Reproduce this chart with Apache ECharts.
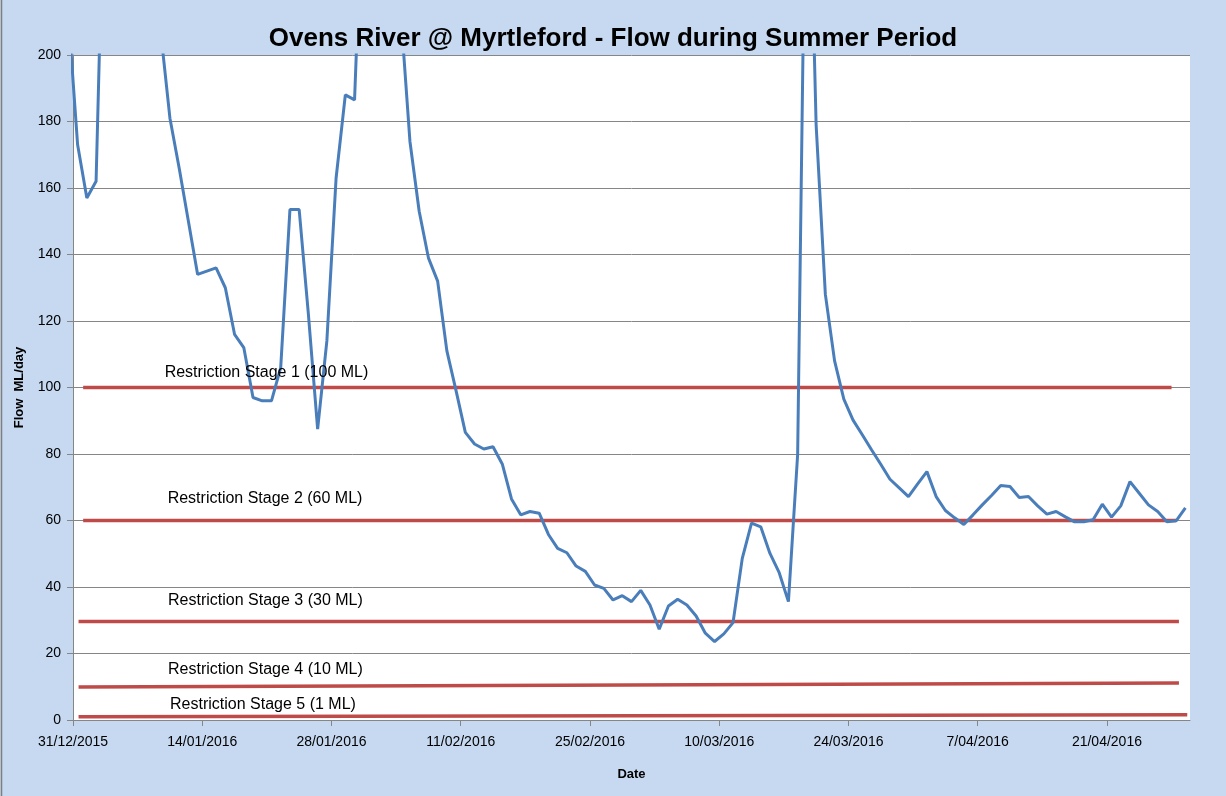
<!DOCTYPE html>
<html>
<head>
<meta charset="utf-8">
<script src="https://cdn.jsdelivr.net/npm/echarts@6/dist/echarts.min.js"></script>
<style>
html,body{margin:0;padding:0;background:#C6D9F1;}
#chart{width:1226px;height:796px;}
</style>
</head>
<body>
<div id="chart"></div>
<script>
// Daily flow (ML/day), first value is 30/12/2015, last is 29/04/2016
const flowStartOffset = -1; // days relative to 31/12/2015
const flows = [
  212, 173, 157, 162, 270, 330, 310, 280, 255, 230,
  207, 181, 166, 150, 134, 135, 136, 130, 116, 112,
  97, 96, 96, 106, 153.5, 153.5, 122, 87.5, 114, 163,
  188, 186.5, 260, 290, 270, 240, 213, 174, 153, 139,
  132, 111, 99, 86.5, 83, 81.5, 82.2, 77, 66.5, 61.7,
  62.7, 62.2, 55.8, 51.6, 50.3, 46.3, 44.7, 40.6, 39.6, 36.1,
  37.4, 35.6, 39, 34.6, 27.3, 34.3, 36.3, 34.6, 31.3, 26.1,
  23.6, 25.9, 29.3, 48.6, 59.2, 58.1, 50.1, 44.3, 35.6, 80,
  290, 179, 128, 108, 96.5, 90.2, 85.8, 81.3, 76.9, 72.4,
  69.8, 67.2, 71, 74.7, 67.2, 63, 60.8, 58.8, 61.7, 64.7,
  67.5, 70.5, 70.2, 66.9, 67.2, 64.4, 61.9, 62.7, 61.1, 59.6,
  59.6, 60.2, 64.9, 61, 64.4, 71.7, 68.2, 64.7, 62.7, 59.6,
  59.9, 63.8
];

// Restriction stage lines
const stageNames = [
  'Restriction Stage 1 (100 ML)',
  'Restriction Stage 2 (60 ML)',
  'Restriction Stage 3 (30 ML)',
  'Restriction Stage 4 (10 ML)',
  'Restriction Stage 5 (1 ML)'
];
const stageStartDay = [1.1, 1.1, 0.6, 0.6, 0.6];
const stageEndDay = [119.0, 119.5, 119.8, 119.8, 120.7];
const stageStartLevel = [100, 60, 29.6, 9.9, 1.0];
const stageEndLevel = [100, 60, 29.6, 11.1, 1.6];

// X tick labels (every 14 days from 31/12/2015)
const xTickLabels = ['31/12/2015','14/01/2016','28/01/2016','11/02/2016','25/02/2016','10/03/2016','24/03/2016','7/04/2016','21/04/2016'];
const tickStep = 14;
const axisDays = 121;

const flowData = flows.map((v, i) => [i + flowStartOffset + 0.5, v]);
const tickVals = xTickLabels.map((_, i) => i * tickStep);

// label placement relative to the start of each stage line (pixels)
const labelOffsets = [[81, -15], [84, -22], [89, -21], [89, -17], [91, -12]];

const series = [];
stageNames.forEach((name, i) => {
  series.push({
    name: name,
    type: 'line',
    symbol: 'none',
    silent: true,
    lineStyle: { color: '#BE4B48', width: 3.5 },
    data: [[stageStartDay[i], stageStartLevel[i]], [stageEndDay[i], stageEndLevel[i]]],
    markPoint: {
      silent: true,
      symbol: 'circle',
      symbolSize: 1,
      itemStyle: { color: 'rgba(0,0,0,0)' },
      label: {
        show: true, position: 'right', distance: 0, offset: labelOffsets[i],
        formatter: name, color: '#000', fontSize: 16, fontFamily: 'Liberation Sans'
      },
      data: [{ coord: [stageStartDay[i], stageStartLevel[i]] }]
    },
    z: 2
  });
});
series.push({
  name: 'Flow',
  type: 'line',
  symbol: 'none',
  clip: true,
  lineStyle: { color: '#4A7EBB', width: 3 },
  data: flowData,
  z: 3
});

const chart = echarts.init(document.getElementById('chart'));
chart.setOption({
  backgroundColor: '#C6D9F1',
  animation: false,
  title: {
    text: 'Ovens River @ Myrtleford - Flow during Summer Period',
    left: 'center',
    top: 21,
    textStyle: { fontFamily: 'Liberation Sans', fontWeight: 'bold', fontSize: 26, color: '#000' }
  },
  graphic: [{
    type: 'line', silent: true,
    shape: { x1: 1.5, y1: 0, x2: 1.5, y2: 796 },
    style: { stroke: '#7F7F7F', lineWidth: 1.5 }
  }],
  grid: { left: 73, right: 36, top: 55, bottom: 76, backgroundColor: '#fff', show: true, borderWidth: 0 },
  xAxis: {
    type: 'value',
    min: 0,
    max: axisDays,
    name: 'Date',
    nameLocation: 'middle',
    nameGap: 48,
    nameTextStyle: { fontFamily: 'Liberation Sans', fontWeight: 'bold', fontSize: 13, color: '#000' },
    axisLine: { show: true, lineStyle: { color: '#868686', width: 1 } },
    axisTick: { show: true, length: 6, lineStyle: { color: '#868686' }, customValues: tickVals },
    axisLabel: {
      customValues: tickVals,
      margin: 15,
      fontFamily: 'Liberation Sans', fontSize: 14, color: '#000',
      formatter: v => xTickLabels[Math.round(v / tickStep)] || ''
    },
    splitLine: { show: false }
  },
  yAxis: {
    type: 'value',
    min: 0,
    max: 200,
    interval: 20,
    name: 'Flow  ML/day',
    nameLocation: 'middle',
    nameGap: 47,
    nameTextStyle: { fontFamily: 'Liberation Sans', fontWeight: 'bold', fontSize: 13, color: '#000' },
    axisLine: { show: true, lineStyle: { color: '#868686', width: 1 } },
    axisTick: { show: true, length: 6, lineStyle: { color: '#868686' } },
    axisLabel: { fontFamily: 'Liberation Sans', fontSize: 14, color: '#000', margin: 12 },
    splitLine: { show: true, lineStyle: { color: '#868686', width: 1 } }
  },
  series: series
});
</script>
</body>
</html>
